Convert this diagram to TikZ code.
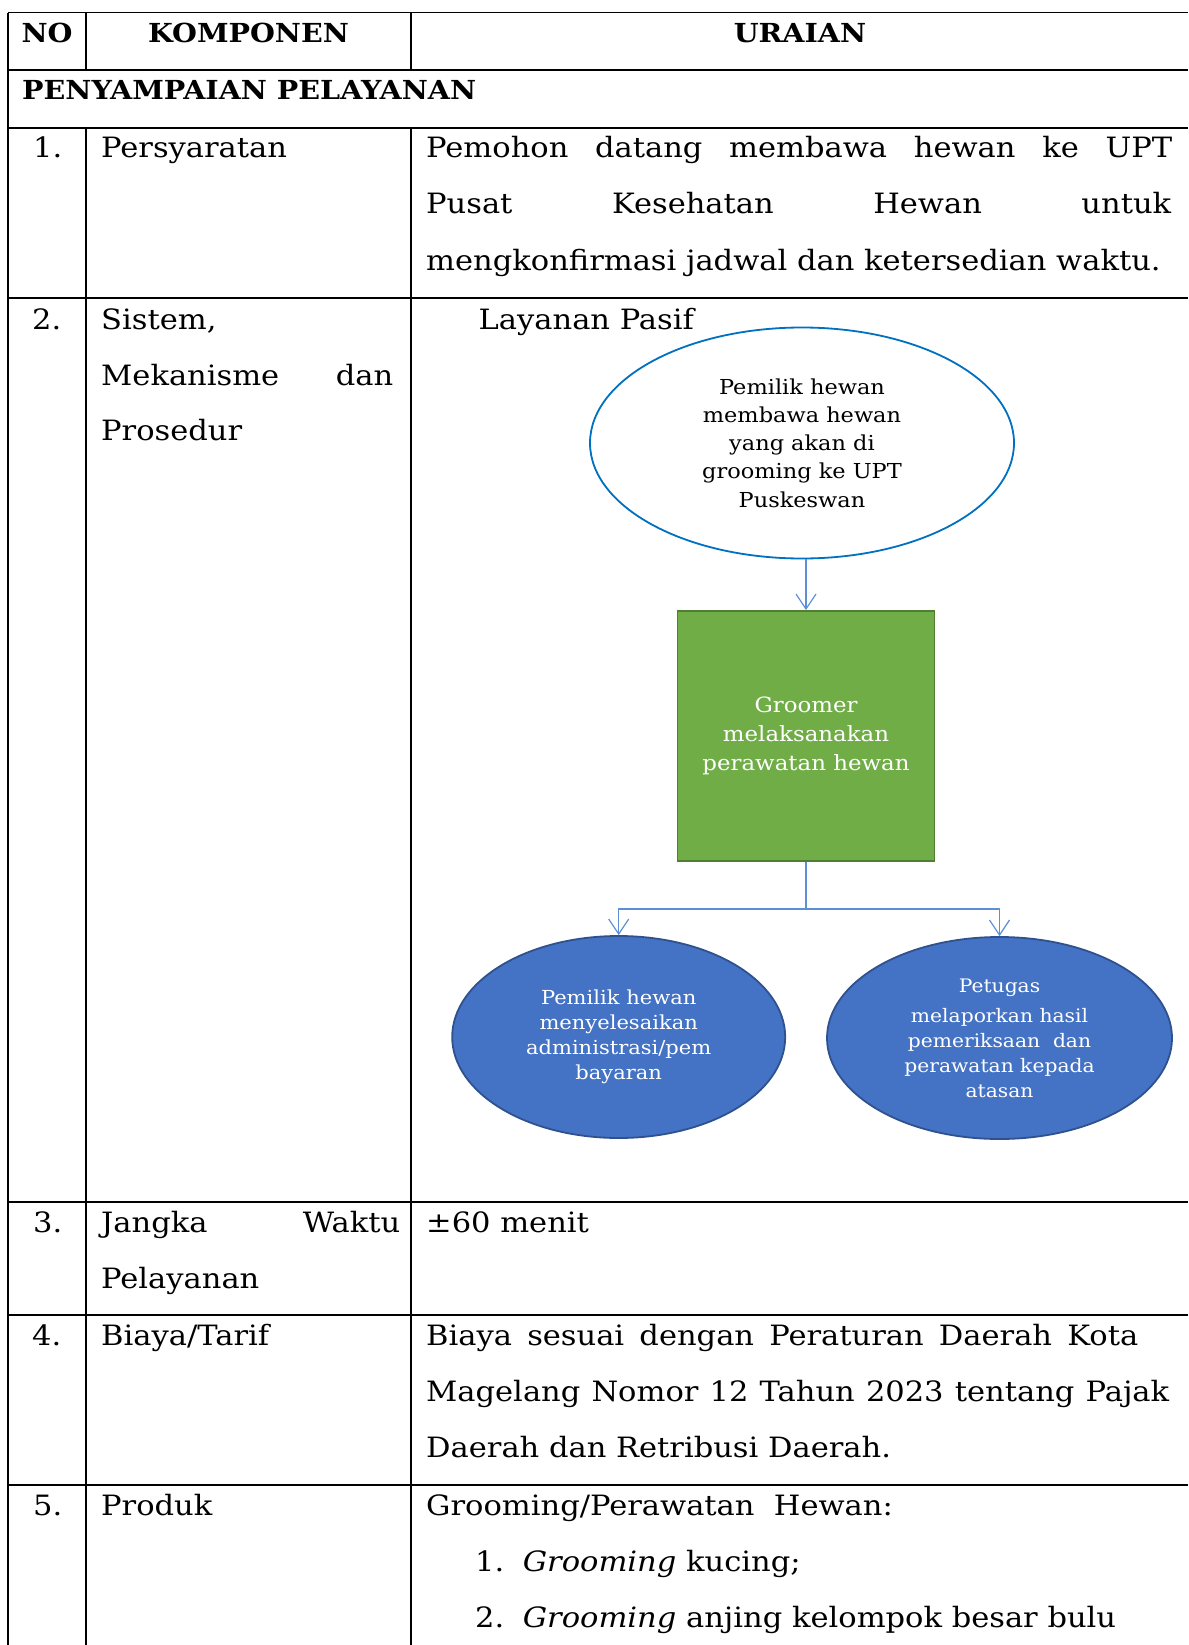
\documentclass[tikz,border=0pt]{standalone}
\usepackage{fontspec}
\setmainfont[FakeStretch=1.09]{DejaVu Serif}
\usetikzlibrary{arrows.meta,shapes.geometric}
\definecolor{ebord}{HTML}{0070C0}
\definecolor{gfill}{HTML}{70AD47}
\definecolor{gbord}{HTML}{507E32}
\definecolor{bfill}{HTML}{4472C4}
\definecolor{bbord}{HTML}{2F528F}
\definecolor{conn}{HTML}{5B8FD6}
\begin{document}
\begin{tikzpicture}[x=1pt,y=-1pt,
  tl/.style={line width=1.6pt,black},
  txt/.style={anchor=base west,inner sep=0pt,font=\fontsize{28}{34}\selectfont},
  hd/.style={anchor=base,inner sep=0pt,font=\fontsize{26.2}{32}\selectfont\bfseries},
  topell/.style={ellipse,draw=ebord,line width=1.8pt,fill=white,minimum width=424pt,minimum height=231pt,inner sep=0pt,align=center,font=\fontsize{20.6}{28.3}\selectfont},
  greenbox/.style={rectangle,draw=gbord,line width=1.8pt,fill=gfill,minimum width=257pt,minimum height=250pt,inner sep=0pt,align=center,text=white,font=\fontsize{21}{29}\selectfont},
  blueell/.style={ellipse,draw=bbord,line width=1.8pt,fill=bfill,inner sep=0pt,align=center,text=white},
  arr/.style={draw=conn,line width=1.2pt,-{Straight Barb[length=15pt,width=20pt,line width=1.2pt]}},
  ln/.style={draw=conn,line width=1.2pt}
]
\useasboundingbox (0,0) rectangle (1188,1645);
\fill[white] (0,0) rectangle (1188,1645);

% table rules
\draw[tl] (8,12.6) -- (1188,12.6);
\foreach \yy in {70.3,128,297.7,1201.7,1315,1485}{\draw[tl] (8,\yy) -- (1188,\yy);}
\draw[tl] (8,12.6) -- (8,1645);
\draw[tl] (86,12.6) -- (86,70.3);
\draw[tl] (411,12.6) -- (411,70.3);
\draw[tl] (86,128) -- (86,1645);
\draw[tl] (411,128) -- (411,1645);

% header
\node[hd] (hno) at (47,43) {NO};
\node[hd] (hkomp) at (248.5,43) {KOMPONEN};
\node[hd] (hur) at (800,43) {URAIAN};
\node[hd,anchor=base west] (sec) at (22,100) {PENYAMPAIAN PELAYANAN};

% row 1
\node[txt] (n1) at (33,158) {1.};
\node[txt] (k1) at (101,158) {Persyaratan};
\node[txt] (u1a) at (426,158) {\makebox[746pt][s]{Pemohon datang membawa hewan ke UPT}};
\node[txt] (u1b) at (426,214) {\makebox[745pt][s]{Pusat Kesehatan Hewan untuk}};
\node[txt] (u1c) at (426,270) {mengkonfirmasi jadwal dan ketersedian waktu.};

% row 2
\node[txt] (n2) at (32,329) {2.};
\node[txt] (k2a) at (101,329) {Sistem,};
\node[txt] (k2b) at (101,385) {\makebox[292pt][s]{Mekanisme dan}};
\node[txt] (k2c) at (101,440) {Prosedur};
\node[txt] (lp) at (478.5,329) {Layanan Pasif};

% flow chart
\node[topell] (e1) at (802,443) {Pemilik hewan\\membawa hewan\\yang akan di\\grooming ke UPT\\Puskeswan};
\node[greenbox] (g) at (806,736) {Groomer\\melaksanakan\\perawatan hewan};
\node[blueell,minimum width=333pt,minimum height=202pt,font=\fontsize{19.3}{25}\selectfont] (b1) at (618.7,1037) {Pemilik hewan\\menyelesaikan\\administrasi/pem\\bayaran};
\node[blueell,minimum width=345pt,minimum height=202pt,font=\fontsize{18.6}{25}\selectfont] (b2) at (999.5,1038) {Petugas\\[5pt]melaporkan hasil\\pemeriksaan~ dan\\perawatan kepada\\atasan};

\draw[arr] (g.north |- e1.south) -- (g.north);
\draw[ln] (g.south) -- ++(0,47) coordinate (j);
\draw[arr] (j) -| (b1.north);
\draw[arr] (j) -| (b2.north);

% row 3
\node[txt] (n3) at (33,1232) {3.};
\node[txt] (k3a) at (101,1232) {\makebox[299pt][s]{Jangka Waktu}};
\node[txt] (k3b) at (101,1288) {Pelayanan};
\node[txt] (u3) at (426,1232) {±60 menit};

% row 4
\node[txt] (n4) at (32,1345) {4.};
\node[txt] (k4) at (101,1345) {Biaya/Tarif};
\node[txt] (u4a) at (426,1345) {\makebox[712pt][s]{Biaya sesuai dengan Peraturan Daerah Kota}};
\node[txt] (u4b) at (426,1401) {\makebox[743pt][s]{Magelang Nomor 12 Tahun 2023 tentang Pajak}};
\node[txt] (u4c) at (426,1457) {Daerah dan Retribusi Daerah.};

% row 5
\node[txt] (n5) at (33,1515) {5.};
\node[txt] (k5) at (101,1515) {Produk};
\node[txt] (u5) at (426,1515) {Grooming/Perawatan~ Hewan:};
\node[txt] (l1n) at (475,1571) {1.};
\node[txt] (l1t) at (522.6,1571) {\textit{Grooming} kucing;};
\node[txt] (l2n) at (475,1627) {2.};
\node[txt] (l2t) at (522.6,1627) {\textit{Grooming} anjing kelompok besar bulu};
\end{tikzpicture}
\end{document}
